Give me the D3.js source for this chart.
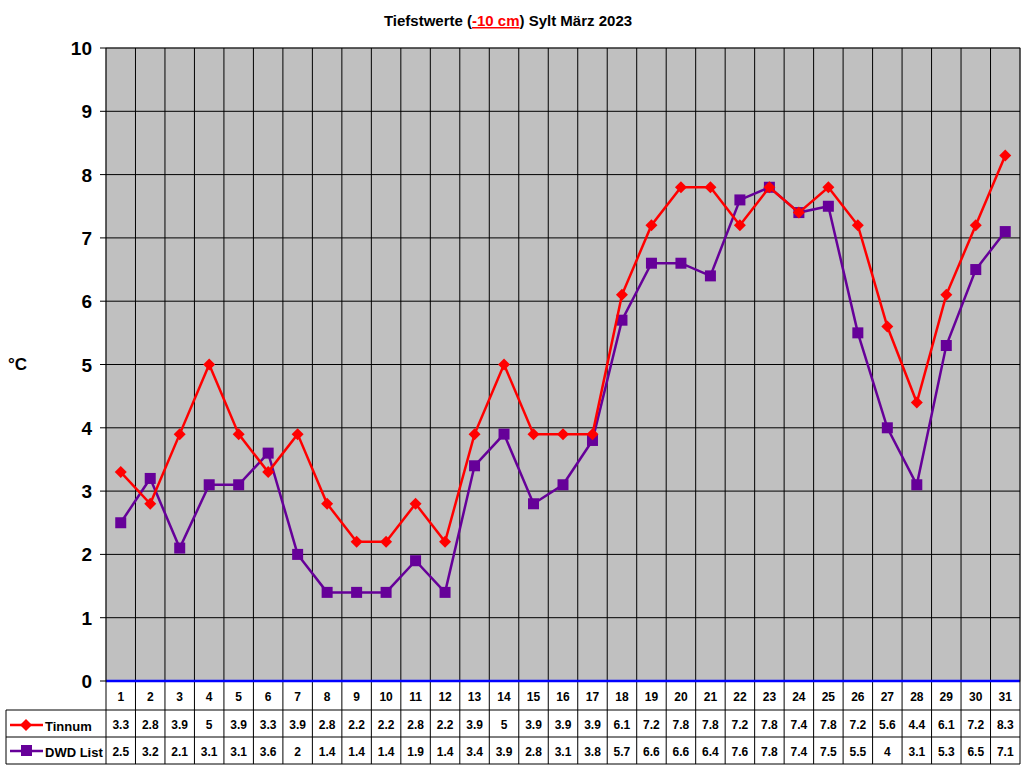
<!DOCTYPE html><html><head><meta charset="utf-8"><script src="https://cdn.jsdelivr.net/npm/d3@7"></script>
<style>body{margin:0;background:#fff}text{font-family:Arial,"Liberation Sans",sans-serif;font-weight:bold}</style></head><body>
<svg id="c" width="1024" height="768"></svg>
<script>
const days=d3.range(1,32);
const tinnum=[3.3,2.8,3.9,5,3.9,3.3,3.9,2.8,2.2,2.2,2.8,2.2,3.9,5,3.9,3.9,3.9,6.1,7.2,7.8,7.8,7.2,7.8,7.4,7.8,7.2,5.6,4.4,6.1,7.2,8.3];
const dwd=[2.5,3.2,2.1,3.1,3.1,3.6,2,1.4,1.4,1.4,1.9,1.4,3.4,3.9,2.8,3.1,3.8,5.7,6.6,6.6,6.4,7.6,7.8,7.4,7.5,5.5,4,3.1,5.3,6.5,7.1];
const yTicks=d3.range(0,11);
const svg=d3.select("#c");
const L=106,R=1020,T=48,B=681;
const x=d3.scaleBand().domain(days).range([L,R]);
const y=d3.scaleLinear().domain([0,10]).range([B,T]);
svg.append("rect").attr("x",L).attr("y",T).attr("width",R-L).attr("height",B-T).attr("fill","#c0c0c0").attr("stroke","#808080");
svg.selectAll(".vg").data(days.slice(1)).join("line").attr("x1",d=>x(d)).attr("x2",d=>x(d)).attr("y1",T).attr("y2",764).attr("stroke","#000").attr("stroke-width",1);
svg.selectAll(".hg").data(yTicks.slice(1)).join("line").attr("x1",L).attr("x2",R).attr("y1",d=>y(d)).attr("y2",d=>y(d)).attr("stroke","#000");
svg.append("line").attr("x1",L).attr("x2",R).attr("y1",B).attr("y2",B).attr("stroke","#0000ff").attr("stroke-width",2.5);
svg.append("line").attr("x1",L).attr("x2",L).attr("y1",T).attr("y2",764).attr("stroke","#000");
svg.append("line").attr("x1",R).attr("x2",R).attr("y1",T).attr("y2",764).attr("stroke","#000");
svg.selectAll(".yt").data(yTicks).join("line").attr("x1",L-6).attr("x2",L).attr("y1",d=>y(d)).attr("y2",d=>y(d)).attr("stroke","#000");
svg.selectAll(".yl").data(yTicks).join("text").attr("x",L-14).attr("y",d=>y(d)+7).attr("text-anchor","end").attr("font-size",19).text(d=>d);
svg.append("text").attr("x",8).attr("y",370).attr("font-size",17).text("°C");
// title
const t=svg.append("text").attr("x",508).attr("y",26).attr("text-anchor","middle").attr("font-size",15);
t.append("tspan").text("Tiefstwerte (");
t.append("tspan").attr("fill","#ff0000").attr("text-decoration","underline").text("-10 cm");
t.append("tspan").text(") Sylt März 2023");
// table
const r0=710,r1=737,r2=764;
[r0,r1,r2].forEach(v=>svg.append("line").attr("x1",v==r0?6:6).attr("x2",R).attr("y1",v).attr("y2",v).attr("stroke","#000"));
svg.append("line").attr("x1",6).attr("x2",6).attr("y1",r0).attr("y2",r2).attr("stroke","#000");
const cx=d=>x(d)+x.bandwidth()/2;
svg.selectAll(".dn").data(days).join("text").attr("x",cx).attr("y",701).attr("text-anchor","middle").attr("font-size",12).text(d=>d);
svg.selectAll(".tv").data(tinnum).join("text").attr("x",(d,i)=>cx(days[i])).attr("y",729).attr("text-anchor","middle").attr("font-size",12).text(d=>d);
svg.selectAll(".dv").data(dwd).join("text").attr("x",(d,i)=>cx(days[i])).attr("y",756).attr("text-anchor","middle").attr("font-size",12).text(d=>d);
const line=d3.line().x((d,i)=>cx(days[i])).y(d=>y(d));
svg.append("path").datum(dwd).attr("d",line).attr("fill","none").attr("stroke","#660099").attr("stroke-width",2.5);
svg.selectAll(".ds").data(dwd).join("rect").attr("x",(d,i)=>cx(days[i])-5.5).attr("y",d=>y(d)-5.5).attr("width",11).attr("height",11).attr("fill","#660099");
svg.append("path").datum(tinnum).attr("d",line).attr("fill","none").attr("stroke","#ff0000").attr("stroke-width",2.5);
svg.selectAll(".td").data(tinnum).join("path").attr("transform",(d,i)=>`translate(${cx(days[i])},${y(d)})`).attr("d","M0,-6L6,0L0,6L-6,0Z").attr("fill","#ff0000");
// legend
svg.append("line").attr("x1",10).attr("x2",43).attr("y1",725).attr("y2",725).attr("stroke","#ff0000").attr("stroke-width",2.5);
svg.append("path").attr("transform","translate(26,725)").attr("d","M0,-6L6,0L0,6L-6,0Z").attr("fill","#ff0000");
svg.append("text").attr("x",45).attr("y",731).attr("font-size",13).text("Tinnum");
svg.append("line").attr("x1",10).attr("x2",43).attr("y1",751).attr("y2",751).attr("stroke","#660099").attr("stroke-width",2.5);
svg.append("rect").attr("x",21).attr("y",745).attr("width",11).attr("height",11).attr("fill","#660099");
svg.append("text").attr("x",45).attr("y",757).attr("font-size",13).text("DWD List");
</script></body></html>
